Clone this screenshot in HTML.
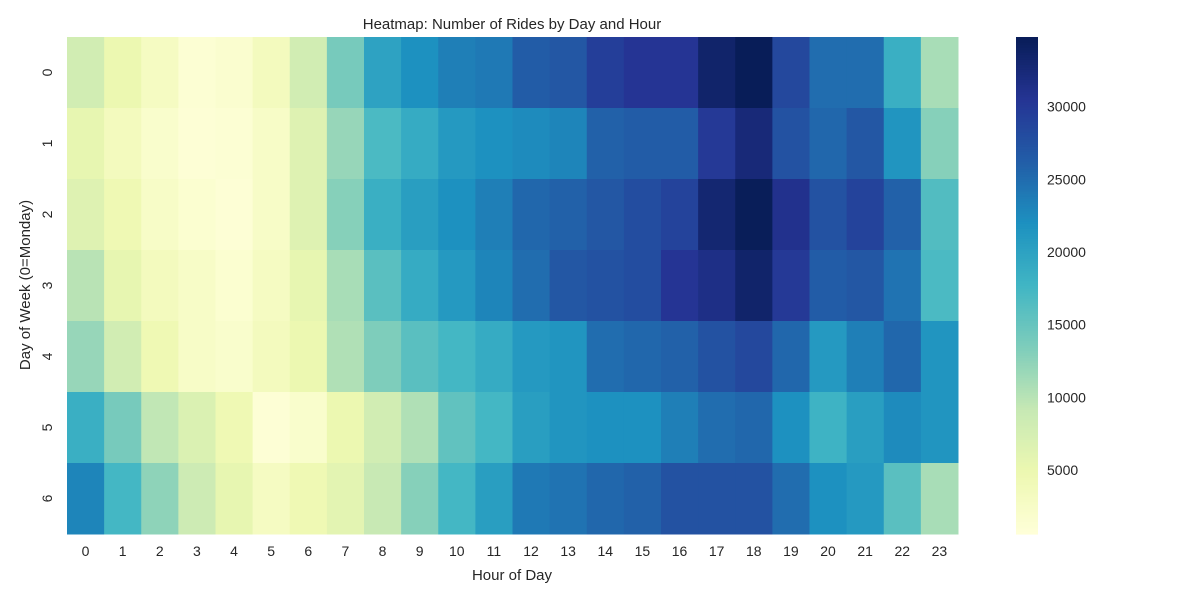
<!DOCTYPE html>
<html><head><meta charset="utf-8">
<style>
body{margin:0;background:#fff;font-family:"Liberation Sans",sans-serif;}
svg text{font-family:"Liberation Sans",sans-serif;fill:#262626;}
</style></head>
<body>
<svg id="chart" width="1200" height="600">
<rect width="1200" height="600" fill="#fff"/>
<text x="512" y="29" font-size="15" text-anchor="middle">Heatmap: Number of Rides by Day and Hour</text>
<text x="512" y="580" font-size="15" text-anchor="middle">Hour of Day</text>
<text x="30" y="285" font-size="15" text-anchor="middle" transform="rotate(-90 30 285)">Day of Week (0=Monday)</text>
<g id="cells"></g><g id="xt"></g><g id="yt"></g><g id="cb"></g>
</svg>
<script>
const hours = [0,1,2,3,4,5,6,7,8,9,10,11,12,13,14,15,16,17,18,19,20,21,22,23];
const days = [0,1,2,3,4,5,6];
const row0 = [8000,5000,3000,1200,1700,3500,8000,14000,20000,22000,23500,24000,26500,27000,29500,30500,30500,33500,34800,28500,25000,25000,18500,11000];
const row1 = [5500,3500,2000,1000,1200,2500,6500,12000,17000,19000,21000,22000,22500,23000,26000,26500,26500,30000,32500,27500,25500,27000,21500,13000];
const row2 = [6500,4500,2500,1500,1000,2500,6500,13000,18500,20500,22000,23500,25500,26000,27000,28000,29000,33000,34700,31000,27500,29000,26000,16500];
const row3 = [10000,5500,3500,2500,1500,3000,5500,11000,16000,19000,21000,23000,25000,27000,27500,28000,30500,31500,33500,30000,26500,27000,24500,17000];
const row4 = [12000,8000,4500,2500,2000,3500,5000,10500,13500,16000,17500,19000,21000,21500,25000,25500,26000,27500,28500,25500,21000,23500,25500,21500];
const row5 = [18500,14000,9500,7000,4500,1000,2000,5000,8000,10500,15500,17500,20500,21500,22000,22000,23500,25000,25500,22000,18000,20500,22500,21500];
const row6 = [23000,17500,12500,8500,5500,3000,4500,6000,9000,13000,17500,20500,24000,24500,25500,26000,27500,27500,27500,25000,22000,21000,16000,11000];
const rows = [row0,row1,row2,row3,row4,row5,row6];
const cbTicks = [5000,10000,15000,20000,25000,30000];
const vmin = 590, vmax = 34800;
const X0=67,X1=958,Y0=37,Y1=534;
const cw=(X1-X0)/hours.length, ch=(Y1-Y0)/days.length;
const stops=["#ffffd9","#edf8b1","#c7e9b4","#7fcdbb","#41b6c4","#1d91c0","#225ea8","#253494","#081d58"];
function hex(h){return [1,3,5].map(i=>parseInt(h.substr(i,2),16));}
function color(v){let t=Math.max(0,Math.min(1,(v-vmin)/(vmax-vmin)))*(stops.length-1);let i=Math.min(Math.floor(t),stops.length-2);let f=t-i;let a=hex(stops[i]),b=hex(stops[i+1]);return "rgb("+a.map((c,k)=>Math.round(c+(b[k]-c)*f)).join(",")+")";}
const NS="http://www.w3.org/2000/svg";
function mk(tag,attrs,parent){const e=document.createElementNS(NS,tag);for(const k in attrs)e.setAttribute(k,attrs[k]);parent.appendChild(e);return e;}
const xS=i=>X0+i*cw, yS=j=>Y0+j*ch;
const cells=document.getElementById('cells');
rows.forEach((r,j)=>r.forEach((v,i)=>{
 const e=mk('rect',{x:xS(i),y:yS(j),width:cw+0.5,height:ch+0.5,fill:color(v)},cells);
 
 
}));
const xt=document.getElementById('xt');
hours.forEach((h,i)=>{
 const t=mk('text',{x:xS(i)+cw/2,y:Y1+22,'font-size':14,'text-anchor':'middle'},xt);t.textContent=h;
 
 
});
const yt=document.getElementById('yt');
days.forEach((d,j)=>{
 const cy=yS(j)+ch/2;
 const t=mk('text',{x:52,y:cy,'font-size':14,'text-anchor':'middle',transform:`rotate(-90 52 ${cy})`},yt);t.textContent=d;
 
 
});
const cb=document.getElementById('cb');
const CX=1016,CW=22;
const cbY=v=>Y1-(v-vmin)/(vmax-vmin)*(Y1-Y0);
for(let k=0;k<200;k++){
 const v0=vmin+(vmax-vmin)*k/200, v1=vmin+(vmax-vmin)*(k+1)/200;
 mk('rect',{x:CX,y:cbY(v1),width:CW,height:cbY(v0)-cbY(v1)+0.6,fill:color((v0+v1)/2)},cb);
}


cbTicks.forEach(v=>{
 const y=cbY(v);
 const t=mk('text',{x:CX+CW+9,y:y+5,'font-size':14},cb);t.textContent=v;
 
 
});
</script>
</body></html>
